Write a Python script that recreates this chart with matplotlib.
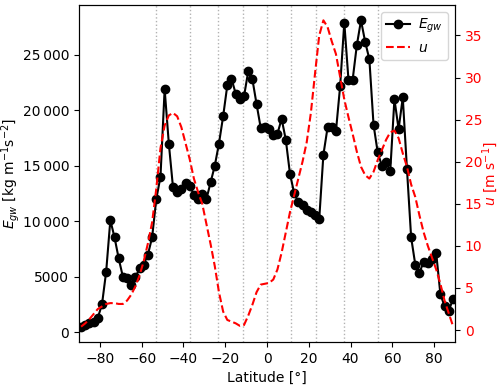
import numpy as np
import matplotlib
matplotlib.use("Agg")
import matplotlib.pyplot as plt
from matplotlib.ticker import FuncFormatter

# latitudes (deg) of the grid
lat = np.arange(-89, 90, 2)

# gravity-wave energy [kg m^-1 s^-2]
e_gw = [500, 650, 800, 950, 1300, 2500, 5450, 10100, 8550, 6650,
        5000, 4850, 4300, 4950, 5750, 6100, 7000, 8550, 12000, 14000,
        21900, 17000, 13050, 12600, 12900, 13400, 13200, 12400, 12000, 12450,
        12000, 13500, 15000, 17000, 19450, 22250, 22850, 21500, 21000, 21250,
        23500, 22800, 20560, 18400, 18450, 18300, 17750, 17880, 19230, 17340,
        14270, 12530, 11720, 11480, 10970, 10820, 10580, 10190, 16000, 18450,
        18450, 18100, 22150, 27900, 22750, 22750, 25850, 28100, 26150, 24600,
        18700, 16200, 15000, 15300, 14500, 21000, 18300, 21150, 14700, 8550,
        6070, 5350, 6370, 6280, 6620, 7120, 3440, 2340, 1890, 3000]

# zonal wind [m s^-1]
u = [0.4, 0.8, 1.3, 1.9, 2.5, 2.8, 3.1, 3.2, 3.2, 3.1,
     3.1, 3.5, 4.2, 5.2, 6.5, 8.2, 10.3, 12.8, 16.8, 21.6,
     24.3, 25.5, 25.8, 25.4, 24.1, 22.2, 20.3, 18.0, 16.4, 15.0,
     12.6, 10.2, 7.6, 4.5, 2.2, 1.2, 1.0, 0.8, 0.5, 0.6,
     1.7, 3.0, 4.5, 5.4, 5.5, 5.6, 6.0, 7.2, 9.2, 11.6,
     14.0, 16.0, 18.0, 20.0, 22.3, 25.8, 30.5, 35.0, 36.8, 36.0,
     34.3, 32.8, 30.1, 27.4, 25.3, 23.3, 21.2, 19.4, 18.4, 18.0,
     18.8, 20.2, 21.4, 22.6, 23.5, 23.7, 22.8, 21.0, 19.4, 17.3,
     15.8, 13.6, 11.6, 10.0, 8.6, 7.2, 5.5, 3.5, 2.0, 0.5]

# reference lines at equal-area latitude bands (sin of latitude)
sin_lines = [-0.8, -0.6, -0.4, -0.2, 0.0, 0.2, 0.4, 0.6, 0.8]


def sep_thousands(v, pos):
    v = int(round(v))
    if abs(v) >= 10000:
        return f"{v:,}".replace(",", "\u2009")
    return str(v)


fig = plt.figure(figsize=(5, 3.86), dpi=100)
ax = fig.add_axes([0.158, 0.114, 0.752, 0.873])

for s in sin_lines:
    ax.axvline(np.degrees(np.arcsin(s)), color="gray", linestyle=":",
               linewidth=1, alpha=0.6, zorder=0)

l1, = ax.plot(lat, e_gw, color="black", marker="o", markersize=6,
              linewidth=1.5, label="$E_{gw}$")
ax.set_xlim(-90, 90)
ax.set_xticks(np.arange(-80, 81, 20))
ax.set_xlabel("Latitude [°]")
ax.set_ylabel("$E_{gw}$ [kg m$^{-1}$s$^{-2}$]")
ax.yaxis.set_label_coords(-0.152, 0.5)
ax.yaxis.set_major_formatter(FuncFormatter(sep_thousands))

ax2 = ax.twinx()
l2, = ax2.plot(lat, u, color="red", linestyle="--", linewidth=1.5, label="$u$")
ax2.set_ylabel("$u$ [m s$^{-1}$]", color="red")
ax2.yaxis.set_label_coords(1.068, 0.5)
ax2.tick_params(axis="y", labelcolor="red")
ax2.set_yticks(np.arange(0, 36, 5))

ax2.legend(handles=[l1, l2], loc="upper right", handlelength=1.7,
           handletextpad=0.6, borderpad=0.35, labelspacing=0.4)

fig.savefig("out.png")
